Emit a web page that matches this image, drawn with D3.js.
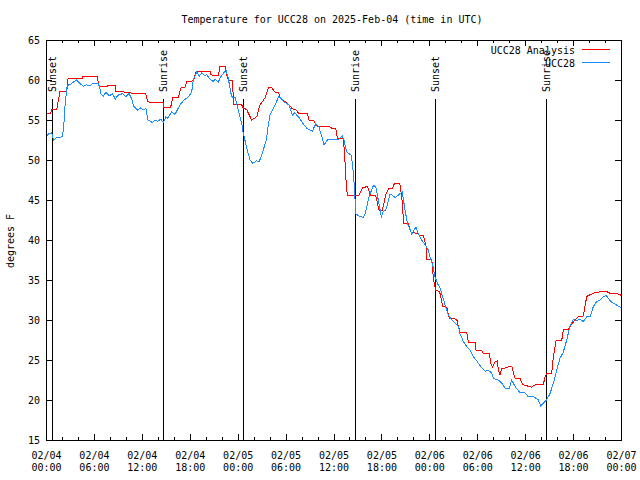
<!DOCTYPE html>
<html>
<head>
<meta charset="utf-8">
<script src="https://cdn.jsdelivr.net/npm/d3@7"></script>
<style>
  body { margin: 0; background: #fff; }
  svg text { font-family: "DejaVu Sans Mono", monospace; font-size: 10px; fill: #000; }
  .tick line { stroke: #000; }
  .frame { fill: none; stroke: #000; }
  .sun-line { stroke: #000; }
  .ana { fill: none; stroke: #ff0000; }
  .obs { fill: none; stroke: #1a8cff; }
</style>
</head>
<body>
<div id="chart"></div>
<script>

// Hours after 2025-02-04 00:00 UTC
var anaHours = [0, 0.6, 0.67, 1.34, 1.75, 2.6, 2.76, 4.55, 4.6, 6.43, 6.64, 7.68, 7.72, 8.7, 8.75, 9.75,
  9.8, 10.6, 10.7, 12.48, 12.69, 12.9, 14.57, 14.69, 14.75, 15.61, 15.86, 16.57, 16.86, 17.41, 17.61,
  18.45, 18.78, 20.54, 20.62, 20.95, 21.58, 21.79, 22.5, 22.54, 22.83, 23.3, 23.54, 24.5, 24.71, 25.13,
  25.75, 26.38, 26.8, 27.42, 27.84, 28.26, 28.67, 29.09, 29.38, 29.8, 30.43, 30.85, 31.26, 31.68, 32.72,
  32.93, 33.47, 33.98, 35.44, 35.73, 36.27, 36.48, 37.19, 37.31, 37.4, 37.52, 37.73, 39.19, 39.61, 40.24,
  40.65, 41.28, 41.7, 42.11, 42.32, 42.53, 42.95, 43.37, 43.66, 44.3, 44.54, 44.67, 44.75, 45.37, 45.67,
  46.5, 46.75, 47.25, 47.59, 47.67, 48.3, 48.42, 48.51, 48.71, 48.75, 49.26, 49.42, 49.67, 50.18, 50.51,
  51.43, 51.64, 51.84, 52.68, 52.89, 53.72, 53.85, 54.56, 54.77, 55.52, 55.68, 55.93, 56.23, 56.52, 56.64,
  56.85, 57.06, 57.48, 58.31, 58.44, 58.73, 59.35, 59.69, 60.11, 60.82, 61.23, 62.28, 62.48, 62.69, 63.32,
  63.53, 63.74, 63.86, 64.57, 64.78, 65.41, 65.82, 66.24, 66.66, 67.28, 67.7, 67.78, 68.33, 68.87, 69.58,
  70.2, 70.62, 71.46, 72];
var anaTemps = [55.75, 55.8, 56.3, 56.3, 58.6, 58.6, 60.2, 60.2, 60.4, 60.4, 59.2, 59.2, 59.3, 59.3, 58.6, 58.6,
  58.4, 58.4, 58.3, 58.3, 57.4, 57.25, 57.25, 57.2, 56.6, 56.6, 57.8, 57.8, 59.0, 59.1, 59.8,
  59.9, 61.0, 61.05, 60.7, 60.5, 60.6, 61.7, 61.7, 61.0, 60.0, 60.0, 56.9, 56.9, 56.5, 56.3,
  55.0, 55.4, 56.9, 57.75, 59.05, 59.05, 58.5, 58.4, 57.75, 57.4, 56.9, 56.4, 56.3, 55.8, 55.8,
  55.0, 55.0, 54.2, 54.2, 54.0, 54.0, 52.7, 52.7, 51.7, 50.6, 48.1, 45.6, 45.6, 46.5, 46.7,
  45.6, 45.6, 43.75, 43.75, 44.6, 45.7, 46.5, 46.5, 47.1, 47.1, 45.4, 44.0, 42.1, 42.1, 41.0,
  40.8, 40.6, 40.6, 39.25, 37.6, 37.6, 36.25, 35.1, 34.2, 33.7, 33.6, 33.0, 31.7, 31.6, 30.2,
  30.1, 29.2, 28.5, 28.5, 27.2, 27.2, 26.25, 26.25, 25.8, 25.8, 24.6, 24.1, 24.8, 24.9, 23.75,
  23.1, 24.0, 24.0, 24.25, 23.75, 22.7, 22.7, 21.9, 21.8, 21.6, 21.9, 21.9, 22.9, 23.3, 23.3,
  25.4, 26.7, 27.4, 27.4, 28.8, 28.8, 29.5, 30.0, 30.4, 30.5, 32.9, 33.0, 33.25, 33.45, 33.55,
  33.55, 33.35, 33.3, 33.1];

var obsHours = [0, 0.3, 0.7, 0.95, 1.35, 2.0, 2.2, 2.38, 2.6, 2.8, 3.1, 3.8, 4.2, 4.7, 5.1, 5.5, 5.9, 6.5,
  6.7, 6.9, 7.2, 7.5, 7.9, 8.3, 8.7, 9.0, 9.6, 10.0, 10.4, 10.7, 11.0, 11.45, 11.85, 12.27, 12.5, 12.77,
  13.3, 13.75, 13.95, 14.36, 14.7, 15.0, 15.2, 15.74, 16.15, 16.78, 17.3, 17.82, 18.24, 18.45, 18.87,
  19.2, 19.5, 19.9, 20.1, 20.54, 20.95, 21.16, 21.58, 21.79, 22.2, 22.54, 22.83, 23.04, 23.25, 23.67,
  24.08, 24.5, 24.71, 25.21, 25.54, 25.88, 26.38, 26.71, 27.21, 27.63, 27.84, 28.05, 28.47, 28.88, 29.09,
  29.38, 29.8, 30.43, 30.85, 31.14, 31.68, 32.31, 32.72, 33.35, 33.77, 34.18, 34.6, 34.81, 35.23, 35.85,
  36.69, 37.11, 37.31, 37.65, 38.23, 38.48, 38.65, 38.78, 39.19, 39.74, 40.03, 40.44, 40.99, 41.28, 41.57,
  41.99, 42.24, 42.53, 42.74, 43.07, 43.37, 43.7, 44.1, 44.6, 44.96, 45.25, 45.58, 45.79, 46.08, 46.34,
  46.63, 47.05, 47.46, 47.88, 48.09, 48.42, 48.71, 49.0, 49.34, 49.67, 49.97, 50.38, 50.8, 51.22, 51.64,
  51.84, 52.26, 52.68, 53.1, 53.51, 53.85, 54.14, 54.56, 54.97, 55.39, 55.81, 56.02, 56.64, 56.85, 57.06,
  57.48, 58.02, 58.31, 58.73, 59.27, 59.98, 60.4, 61.02, 61.4, 61.65, 61.94, 62.28, 62.69, 63.11, 63.53,
  63.95, 64.36, 64.78, 65.2, 65.61, 66.03, 66.45, 66.87, 67.28, 67.78, 68.12, 68.54, 68.95, 69.37, 69.79,
  70.12, 70.41, 70.83, 71.25, 71.67, 72];
var obsTemps = [52.9, 53.25, 53.4, 52.5, 52.8, 52.9, 53.8, 56.7, 59.0, 59.4, 59.5, 60.0, 59.6, 59.2, 59.4, 59.25, 59.6, 59.6,
  59.2, 58.2, 58.0, 58.5, 58.0, 58.3, 57.6, 58.1, 58.3, 57.9, 58.3, 57.7, 56.7, 56.25, 56.5, 56.25, 56.5, 55.0,
  54.7, 55.0, 54.8, 55.1, 54.7, 55.4, 55.2, 56.0, 55.7, 56.9, 57.5, 57.9, 58.5, 60.0, 61.0,
  60.5, 60.9, 60.5, 60.7, 60.1, 59.8, 60.1, 59.7, 60.3, 60.8, 61.25, 60.2, 58.95, 57.9, 57.8,
  56.25, 54.6, 53.3, 51.25, 50.0, 49.6, 49.9, 49.8, 51.25, 52.7, 54.4, 55.6, 56.5, 57.3, 57.9,
  57.75, 57.25, 56.9, 55.6, 55.9, 55.3, 54.4, 53.9, 53.6, 54.5, 54.1, 52.7, 51.9, 52.5, 52.6,
  52.6, 53.0, 52.5, 51.0, 50.6, 48.5, 46.0, 43.3, 43.0, 42.8, 43.5, 45.4, 46.8, 46.7, 45.2,
  42.9, 43.6, 43.7, 44.4, 45.7, 45.6, 45.3, 45.6, 46.0, 43.75, 42.1, 41.3, 40.75, 41.25, 41.6,
  40.75, 40.0, 39.4, 38.75, 37.9, 36.9, 35.4, 34.6, 34.0, 32.9, 31.9, 30.6, 30.0, 29.6, 29.2,
  28.3, 27.3, 26.7, 26.25, 25.4, 25.0, 24.6, 24.0, 23.6, 23.7, 23.4, 22.7, 22.5, 22.3, 22.1,
  21.5, 21.5, 22.5, 21.7, 21.0, 20.9, 20.4, 20.4, 20.2, 20.0, 19.25, 19.6, 20.0, 20.8, 22.1,
  23.75, 25.2, 26.0, 27.5, 29.2, 30.1, 29.9, 30.1, 29.8, 30.5, 30.4, 31.7, 32.3, 32.5, 32.9,
  33.1, 32.7, 32.2, 32.0, 31.7, 31.6];

var sunHours = [0.71, 14.69, 24.72, 38.73, 48.75, 62.66];
var sunLabels = ['Sunset', 'Sunrise', 'Sunset', 'Sunrise', 'Sunset', 'Sunrise'];

var yTicks = [15, 20, 25, 30, 35, 40, 45, 50, 55, 60, 65];

var width = 640,
    height = 480,
    plotLeft = 46, plotRight = 621, plotTop = 40, plotBottom = 440;

var start = Date.UTC(2025, 1, 4);
function toDate(h){ return new Date(start + h * 3600000); }

var x = d3.scaleUtc()
  .domain([toDate(0), toDate(72)])
  .range([plotLeft, plotRight]);

var y = d3.scaleLinear()
  .domain([15, 65])
  .range([plotBottom, plotTop]);

var svg = d3.select('#chart')
  .append('svg')
    .attr('width', width)
    .attr('height', height);

svg.append('rect')
  .attr('width', width)
  .attr('height', height)
  .attr('fill', '#fff');

var majorX = x.ticks(d3.utcHour.every(6));
var minorX = x.ticks(d3.utcHour.every(2));

// Minor ticks, bottom and top
svg.append('g')
  .attr('transform', 'translate(0,' + plotBottom + ')')
  .call(d3.axisBottom(x).tickValues(minorX).tickSize(-3).tickFormat(''));
svg.append('g')
  .attr('transform', 'translate(0,' + plotTop + ')')
  .call(d3.axisTop(x).tickValues(minorX).tickSize(-3).tickFormat(''));

// Major ticks with two line labels
var fmtDay = d3.utcFormat('%m/%d'),
    fmtTime = d3.utcFormat('%H:%M');

svg.append('g')
  .attr('transform', 'translate(0,' + plotBottom + ')')
  .call(d3.axisBottom(x).tickValues(majorX).tickSize(-6).tickPadding(0).tickFormat(fmtDay))
  .call(function(g){
    g.selectAll('.tick text').each(function(d){
      var t = d3.select(this).text('').attr('y', 19).attr('dy', null);
      t.append('tspan').attr('x', 0).text(fmtDay(d));
      t.append('tspan').attr('x', 0).attr('dy', 12).text(fmtTime(d));
    });
  });
svg.append('g')
  .attr('transform', 'translate(0,' + plotTop + ')')
  .call(d3.axisTop(x).tickValues(majorX).tickSize(-6).tickFormat(''));

// Y ticks left and right
svg.append('g')
  .attr('transform', 'translate(' + plotLeft + ',0)')
  .call(d3.axisLeft(y).tickValues(yTicks).tickSize(-6).tickPadding(6));
svg.append('g')
  .attr('transform', 'translate(' + plotRight + ',0)')
  .call(d3.axisRight(y).tickValues(yTicks).tickSize(-6).tickFormat(''));

svg.selectAll('.domain').remove();
svg.selectAll('.tick text').attr('font-family', null).attr('font-size', null);
svg.selectAll('.tick line').attr('shape-rendering', 'crispEdges');

// Sunrise / sunset markers
svg.selectAll('.sun-line')
  .data(sunHours)
  .enter()
    .append('line')
      .attr('class', 'sun-line')
      .attr('shape-rendering', 'crispEdges')
      .attr('x1', function(d){ return Math.round(x(toDate(d))) + 0.5; })
      .attr('x2', function(d){ return Math.round(x(toDate(d))) + 0.5; })
      .attr('y1', 99)
      .attr('y2', plotBottom);

svg.selectAll('.sun-label')
  .data(sunHours)
  .enter()
    .append('text')
      .attr('class', 'sun-label')
      .attr('transform', function(d){ return 'translate(' + (Math.round(x(toDate(d))) + 0.5) + ',92) rotate(-90)'; })
      .attr('dy', '0.35em')
      .text(function(d, i){ return sunLabels[i]; });

// Data lines (aliased, like the original bitmap plot)
var line = d3.line()
  .x(function(d){ return x(toDate(d[0])); })
  .y(function(d){ return y(d[1]); });

svg.append('path')
  .attr('class', 'ana')
  .attr('shape-rendering', 'crispEdges')
  .attr('d', line(d3.zip(anaHours, anaTemps)));

svg.append('path')
  .attr('class', 'obs')
  .attr('shape-rendering', 'crispEdges')
  .attr('d', line(d3.zip(obsHours, obsTemps)));

// Frame
svg.append('rect')
  .attr('class', 'frame')
  .attr('shape-rendering', 'crispEdges')
  .attr('x', plotLeft + 0.5)
  .attr('y', plotTop + 0.5)
  .attr('width', plotRight - plotLeft)
  .attr('height', plotBottom - plotTop);

// Legend
var legend = [
  { name: 'UCC28 Analysis', cls: 'ana', y: 50 },
  { name: 'UCC28', cls: 'obs', y: 63 }
];
legend.forEach(function(d){
  svg.append('text')
    .attr('x', 575)
    .attr('y', d.y)
    .attr('dy', '0.35em')
    .attr('text-anchor', 'end')
    .text(d.name);
  svg.append('line')
    .attr('class', d.cls)
    .attr('shape-rendering', 'crispEdges')
    .attr('x1', 582)
    .attr('x2', 610)
    .attr('y1', d.y - 0.5)
    .attr('y2', d.y - 0.5);
});

// Title and axis label
svg.append('text')
  .attr('x', 332)
  .attr('y', 19)
  .attr('dy', '0.35em')
  .attr('text-anchor', 'middle')
  .text('Temperature for UCC28 on 2025-Feb-04 (time in UTC)');

svg.append('text')
  .attr('transform', 'translate(10,241) rotate(-90)')
  .attr('dy', '0.35em')
  .attr('text-anchor', 'middle')
  .text('degrees F');

</script>
</body>
</html>
